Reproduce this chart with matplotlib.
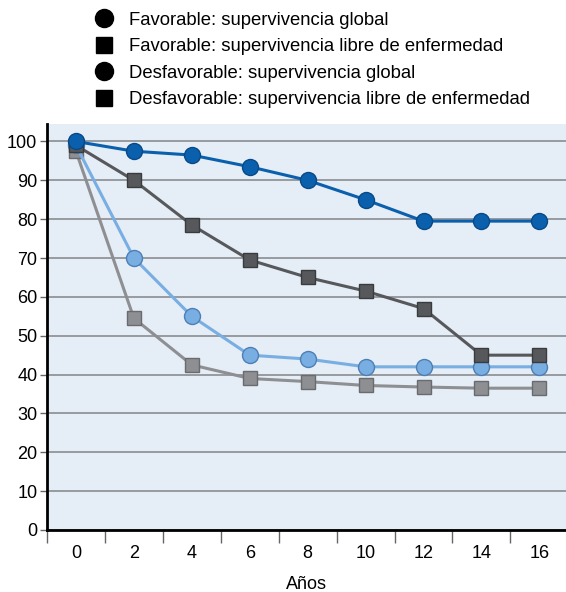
import matplotlib
matplotlib.use("Agg")
import matplotlib.pyplot as plt
from matplotlib.lines import Line2D

plt.rcParams['font.family'] = ['Liberation Sans', 'DejaVu Sans']

years = ["0", "2", "4", "6", "8", "10", "12", "14", "16"]
fav_global = [100, 97.5, 96.5, 93.5, 90, 85, 79.5, 79.5, 79.5]
fav_libre = [99, 90, 78.5, 69.5, 65, 61.5, 57, 45, 45]
desf_global = [99, 70, 55, 45, 44, 42, 42, 42, 42]
desf_libre = [97.5, 54.5, 42.5, 39, 38.2, 37.2, 36.8, 36.5, 36.5]
labels = [
    "Favorable: supervivencia global",
    "Favorable: supervivencia libre de enfermedad",
    "Desfavorable: supervivencia global",
    "Desfavorable: supervivencia libre de enfermedad",
]
yticks = [0, 10, 20, 30, 40, 50, 60, 70, 80, 90, 100]

W, H = 566, 592
fig = plt.figure(figsize=(W / 100, H / 100), dpi=100)
ax = fig.add_axes([47 / W, 1 - 530 / H, (W - 47) / W, (530 - 124) / H])
ax.set_facecolor("#e5edf6")

x = list(range(len(years)))
series = [
    (desf_libre, "#8e8f92", "#6a6b6e", "s", 10),
    (desf_global, "#79aee2", "#4d7fb5", "o", 11.5),
    (fav_libre, "#57585b", "#3a3b3d", "s", 10),
    (fav_global, "#0b60ae", "#084a87", "o", 11.5),
]
for vals, col, edge, mk, ms in series:
    ax.plot(x, vals, color=col, lw=2.2, marker=mk, markersize=ms,
            markerfacecolor=col, markeredgecolor=edge, markeredgewidth=1.0,
            zorder=3)

ax.set_xlim(-0.5, 8.46)
ax.set_ylim(0, 104.5)
ax.set_yticks(yticks)
ax.set_yticklabels([str(v) for v in yticks], fontsize=13)
ax.yaxis.grid(True, color="#8a8c90", lw=1.2)
ax.set_axisbelow(True)

ax.set_xticks([i - 0.5 for i in range(len(years))])
ax.set_xticklabels([])
ax.set_xticks(x, minor=True)
ax.set_xticklabels(years, minor=True, fontsize=13)
ax.tick_params(axis="x", which="major", length=9, width=1, color="#666666", direction="out")
ax.tick_params(axis="x", which="minor", length=0, pad=11)
ax.tick_params(axis="y", length=5, width=1, color="#666666", pad=2)

for s in ["top", "right"]:
    ax.spines[s].set_visible(False)
ax.spines["left"].set_linewidth(2)
ax.spines["bottom"].set_linewidth(2)

ax.set_xlabel("Años", fontsize=13, labelpad=10)

handles = [
    Line2D([], [], ls="none", marker="o", color="black", markersize=13),
    Line2D([], [], ls="none", marker="s", color="black", markersize=11),
    Line2D([], [], ls="none", marker="o", color="black", markersize=13),
    Line2D([], [], ls="none", marker="s", color="black", markersize=11),
]
fig.legend(handles, labels, loc="upper left", bbox_to_anchor=(78 / W, 1 + 5 / H),
           frameon=False, fontsize=13.3, handletextpad=0.85, labelspacing=0.52,
           handlelength=1.0)

fig.savefig("out.png", dpi=100)
